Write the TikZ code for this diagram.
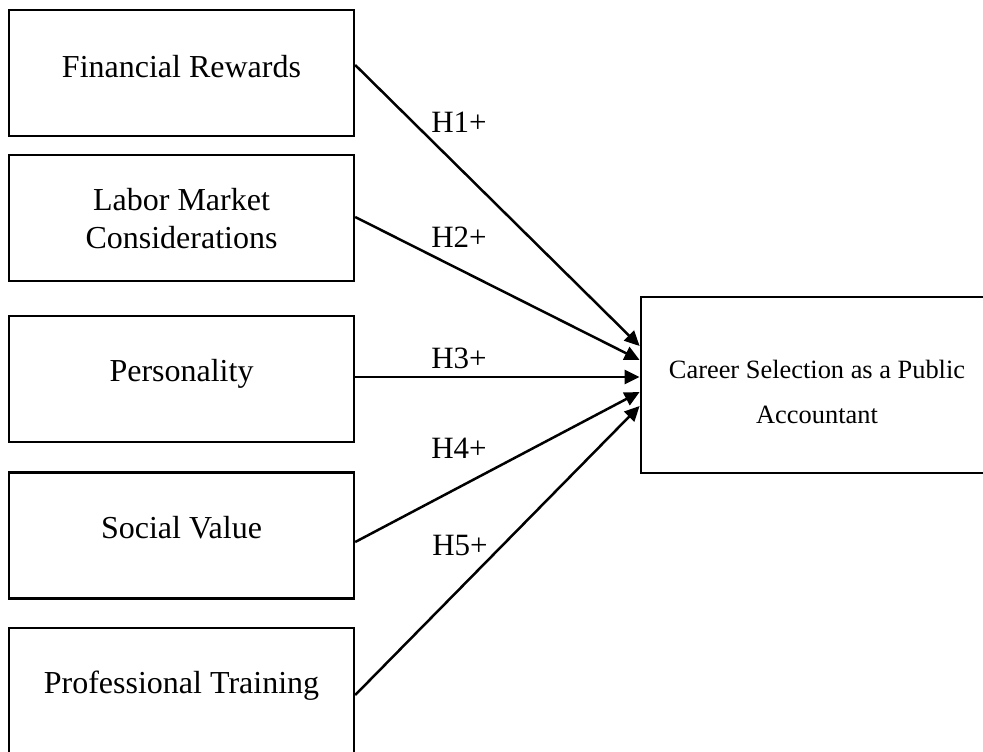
\documentclass[tikz,border=0pt]{standalone}
\usepackage{fontspec}
\setmainfont{Liberation Serif}
\usetikzlibrary{arrows.meta,calc}
\begin{document}
\begin{tikzpicture}[x=0.5pt,y=-0.5pt,
  factor/.style={draw, line width=1.2pt, minimum width=172.5pt, minimum height=63pt, inner sep=0pt},
  outcome/.style={draw, line width=1.4pt, minimum width=172.5pt, minimum height=88pt, inner sep=0pt},
  boxtext/.style={anchor=base, font=\fontsize{16}{19}\selectfont, inner sep=0pt},
  outtext/.style={anchor=base, font=\fontsize{13.2}{16}\selectfont, inner sep=0pt},
  hyp/.style={anchor=base, font=\fontsize{15.5}{18}\selectfont, inner sep=0pt},
  link/.style={line width=1.25pt, -{Triangle[length=7.5pt,width=7pt]}}
]
\useasboundingbox (0,0) rectangle (983,751);
\clip (0,0) rectangle (983,751);

% independent variables
\node[factor] (f1) at (181.5,73) {};
\node[boxtext] (t1) at (181.5,77) {Financial Rewards};
\node[factor] (f2) at (181.5,218) {};
\node[boxtext] (t2a) at (181.5,210) {Labor Market};
\node[boxtext] (t2b) at (181.5,248) {Considerations};
\node[factor] (f3) at (181.5,379) {};
\node[boxtext] (t3) at (181.5,381) {Personality};
\node[factor] (f4) at (181.5,535.5) {};
\node[boxtext] (t4) at (181.5,538) {Social Value};
\node[factor] (f5) at (181.5,691) {};
\node[boxtext] (t5) at (181.5,693) {Professional Training};

% dependent variable
\node[outcome] (cs) at (813.5,385) {};
\node[outtext] (cst1) at (817,378) {Career Selection as a Public};
\node[outtext] (cst2) at (817,423) {Accountant};

% connector end points
\coordinate (s1) at ($(f1.east)+(0,-8)$);
\coordinate (s2) at ($(f2.east)+(0,-1)$);
\coordinate (s3) at ($(f3.east)+(0,-2)$);
\coordinate (s4) at ($(f4.east)+(0,6.5)$);
\coordinate (s5) at ($(f5.east)+(0,4)$);
\coordinate (e1) at ($(cs.west)+(0,-39)$);
\coordinate (e2) at ($(cs.west)+(0,-25)$);
\coordinate (e3) at ($(cs.west)+(0,-8)$);
\coordinate (e4) at ($(cs.west)+(0,7)$);
\coordinate (e5) at ($(cs.west)+(0,21)$);

\draw[link] (s1) -- (e1);
\draw[link] (s2) -- (e2);
\draw[link] (s3) -- (e3);
\draw[link] (s4) -- (e4);
\draw[link] (s5) -- (e5);

% hypothesis labels
\node[hyp] (h1) at (459,132) {H1+};
\node[hyp] (h2) at (459,247) {H2+};
\node[hyp] (h3) at (459,368) {H3+};
\node[hyp] (h4) at (459,458) {H4+};
\node[hyp] (h5) at (460,555) {H5+};
\end{tikzpicture}
\end{document}
